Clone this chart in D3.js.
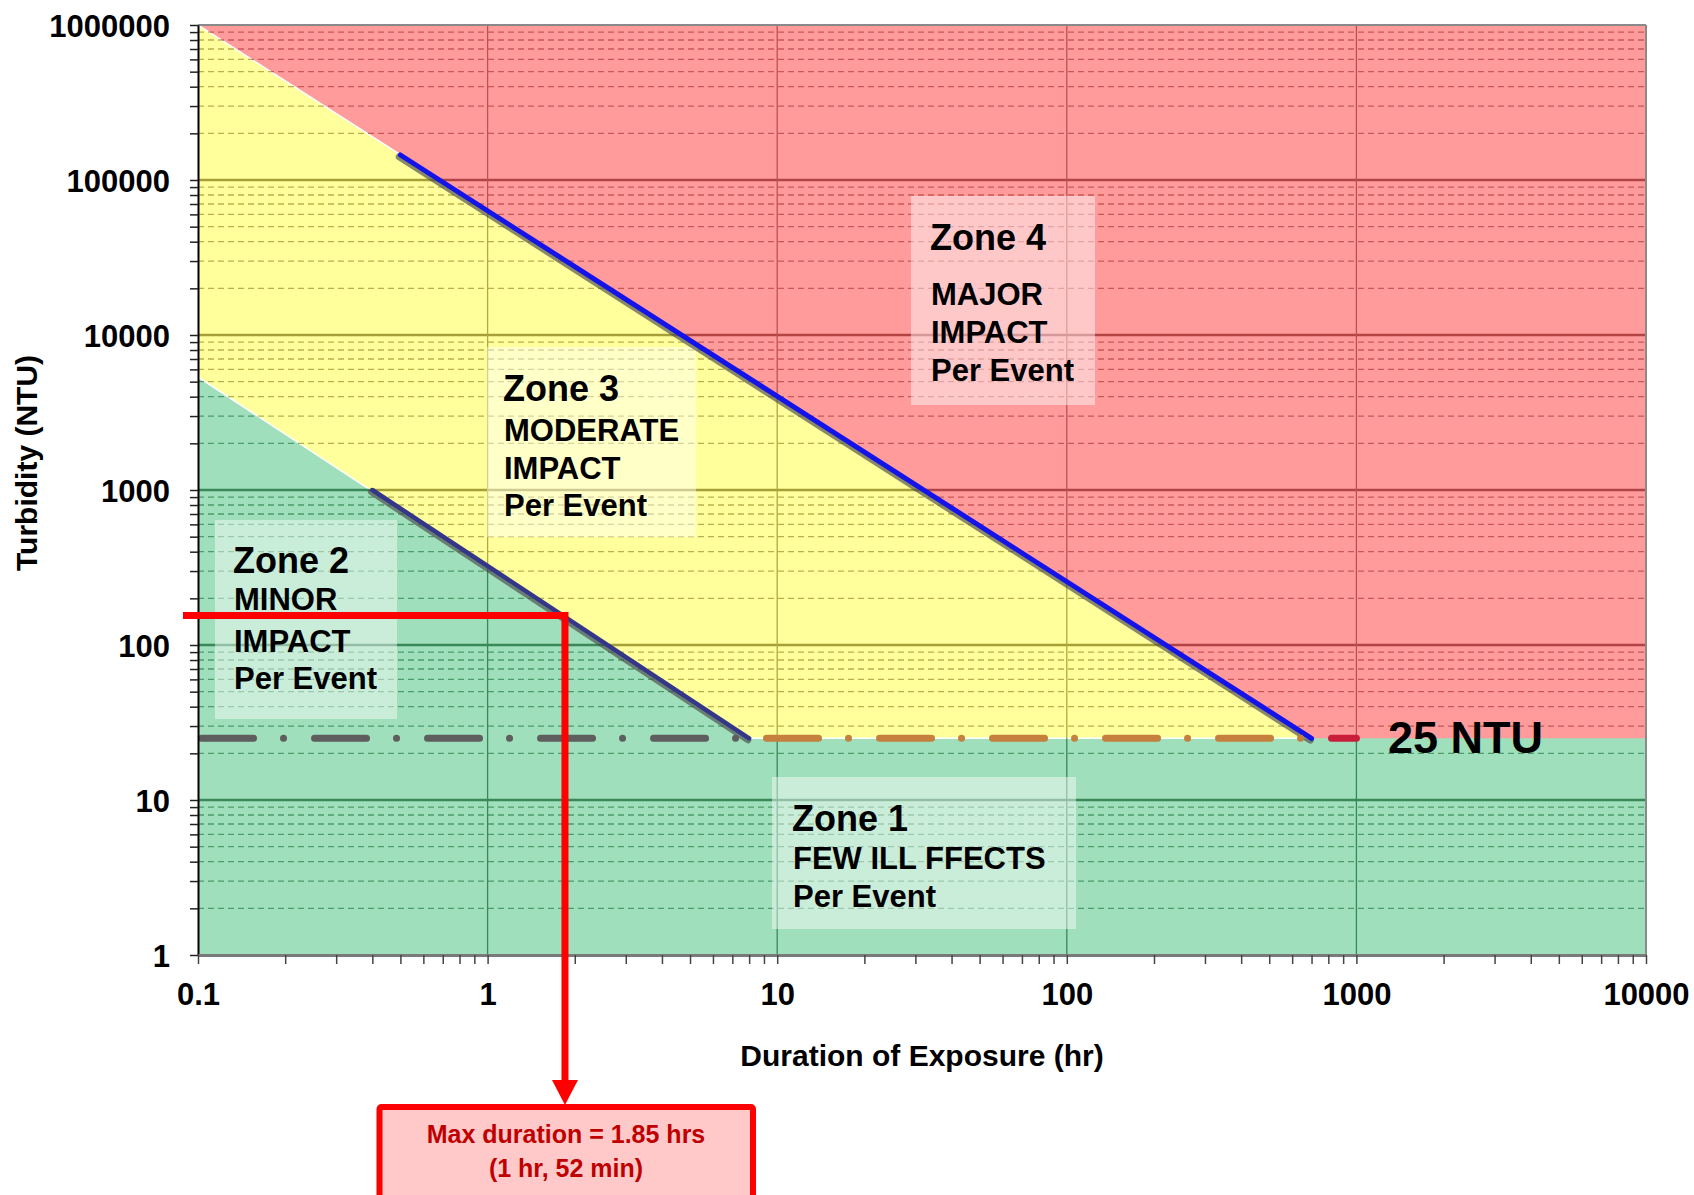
<!DOCTYPE html>
<html><head><meta charset="utf-8">
<script src="https://cdn.jsdelivr.net/npm/d3@7"></script>
<style>
html,body{margin:0;padding:0;background:#fff;}
svg{display:block;}
text{font-family:"Liberation Sans",Arial,sans-serif;font-weight:bold;}
</style></head>
<body>
<script>
// ---------------- data ----------------
const xTickValues = [0.1, 1, 10, 100, 1000, 10000];
const xTickLabels = ["0.1", "1", "10", "100", "1000", "10000"];
const yTickValues = [1, 10, 100, 1000, 10000, 100000, 1000000];
const yTickLabels = ["1", "10", "100", "1000", "10000", "100000", "1000000"];
const minorMultipliers = [2, 3, 4, 5, 6, 7, 8, 9];

// zone boundaries (duration hr, turbidity NTU)
const zone34Boundary = [[0.1, 1000000], [700, 25]];
const zone23Boundary = [[0.1, 5360], [8, 25]];
const zone34Line = [[0.5, 145000], [700, 25]];
const zone23Line = [[0.4, 1000], [8, 25]];
const thresholdNTU = 25;
const thresholdSegments = [[0.1, 8], [8, 700], [700, 1000]];
const thresholdColors = ["#5e5e5e", "#c4803c", "#c81e3c"];

const maxTurbidity = 155;
const maxDuration = 1.85;
const annotationLines = ["Max duration = 1.85 hrs", "(1 hr, 52 min)"];

const zoneTitles = ["Zone 1", "Zone 2", "Zone 3", "Zone 4"];
const zoneTexts = [["FEW ILL FFECTS", "Per Event"], ["MINOR", "IMPACT", "Per Event"],
                   ["MODERATE", "IMPACT", "Per Event"], ["MAJOR", "IMPACT", "Per Event"]];
const xTitle = "Duration of Exposure (hr)";
const yTitle = "Turbidity (NTU)";
const thresholdLabel = "25 NTU";

// ---------------- layout ----------------
const W = 1694, H = 1195;
const L = 198, R = 1646, T = 25, B = 955;
const X = d3.scaleLog().domain([xTickValues[0], xTickValues[xTickValues.length-1]]).range([L, R]);
const Y = d3.scaleLog().domain([yTickValues[0], yTickValues[yTickValues.length-1]]).range([B, T]);
const xMin = X.domain()[0], xMax = X.domain()[1], yMin = Y.domain()[0], yMax = Y.domain()[1];

const svg = d3.select("body").append("svg").attr("width", W).attr("height", H);
svg.append("rect").attr("width", W).attr("height", H).attr("fill", "#fff");
const defs = svg.append("defs");
const line = d3.line().x(d => X(d[0])).y(d => Y(d[1]));

const redPoly = [zone34Boundary[0], [xMax, yMax], [xMax, thresholdNTU], zone34Boundary[1]];
const yellowPoly = [zone34Boundary[0], zone34Boundary[1], zone23Boundary[1], zone23Boundary[0]];
const greenPoly = [zone23Boundary[0], zone23Boundary[1], [xMax, thresholdNTU], [xMax, yMin], [xMin, yMin]];

const zones = [
  {id: "g", poly: greenPoly, fill: "#9fdfbb", major: "#3a8858", minor: "#4e9c6c", vert: "#3a8858"},
  {id: "r", poly: redPoly, fill: "#ff9b9b", major: "#b24444", minor: "#c85858", vert: "#c05050"},
  {id: "y", poly: yellowPoly, fill: "#ffff9c", major: "#a69e36", minor: "#b8b050", vert: "#b0a840"}
];

// zone fills
svg.append("rect").attr("x", L).attr("y", T).attr("width", R - L).attr("height", B - T).attr("fill", zones[0].fill);
svg.append("path").attr("d", line(redPoly) + "Z").attr("fill", zones[1].fill);
svg.append("path").attr("d", line(yellowPoly) + "Z").attr("fill", zones[2].fill)
   .attr("stroke", "#fff").attr("stroke-width", 1.5);

// grid lines clipped per zone
const minorVals = [];
yTickValues.slice(0, -1).forEach(d => minorMultipliers.forEach(m => minorVals.push(d * m)));
zones.forEach(z => {
  defs.append("clipPath").attr("id", "clip-" + z.id).append("path").attr("d", line(z.poly) + "Z");
  const g = svg.append("g").attr("clip-path", "url(#clip-" + z.id + ")");
  g.selectAll(".mn").data(minorVals).enter().append("line")
    .attr("x1", L).attr("x2", R).attr("y1", d => Y(d)).attr("y2", d => Y(d))
    .attr("stroke", z.minor).attr("stroke-width", 1.3).attr("stroke-dasharray", "6,4");
  g.selectAll(".mj").data(yTickValues.slice(1, -1)).enter().append("line")
    .attr("x1", L).attr("x2", R).attr("y1", d => Y(d)).attr("y2", d => Y(d))
    .attr("stroke", z.major).attr("stroke-width", 2.5);
  g.selectAll(".vt").data(xTickValues.slice(1, -1)).enter().append("line")
    .attr("y1", T).attr("y2", B).attr("x1", d => X(d)).attr("x2", d => X(d))
    .attr("stroke", z.vert).attr("stroke-width", 1.3);
});

// zone label boxes
const boxes = [
  {x: 772, y: 777, w: 304, h: 152, tx: 792, ty: [831, 869, 907]},
  {x: 215, y: 520, w: 182, h: 199, tx: 233, ty: [573, 610, 652, 689]},
  {x: 487, y: 347, w: 209, h: 190, tx: 503, ty: [401, 441, 479, 516]},
  {x: 911, y: 196, w: 184, h: 209, tx: 930, ty: [250, 305, 343, 381]}
];
boxes.forEach(b => {
  svg.append("rect").attr("x", b.x).attr("y", b.y).attr("width", b.w).attr("height", b.h)
    .attr("fill", "#fff").attr("fill-opacity", 0.45);
});

// boundary lines
function drawBoundary(pts, color, w) {
  svg.append("path").attr("d", line(pts)).attr("fill", "none")
    .attr("stroke", "#4a4a4a").attr("stroke-opacity", 0.65).attr("stroke-width", w + 2)
    .attr("stroke-linecap", "round").attr("transform", "translate(-1.2,1.8)");
  svg.append("path").attr("d", line(pts)).attr("fill", "none")
    .attr("stroke", color).attr("stroke-width", w).attr("stroke-linecap", "round");
}
drawBoundary(zone23Line, "#34368a", 4.5);
drawBoundary(zone34Line, "#1414e8", 5);

// threshold dash-dot line, continuous pattern across coloured segments
const period = 113, dashStart = X(xMin) + 3.5;
thresholdSegments.forEach((s, i) => {
  const x0 = X(s[0]);
  svg.append("path").attr("d", line([[s[0], thresholdNTU], [s[1], thresholdNTU]]))
    .attr("fill", "none").attr("stroke", thresholdColors[i]).attr("stroke-width", 7)
    .attr("stroke-linecap", "round").attr("stroke-dasharray", "52 30 0.01 31")
    .attr("stroke-dashoffset", ((x0 - dashStart) % period + period) % period);
});

// borders
svg.append("line").attr("x1", L).attr("x2", R).attr("y1", T).attr("y2", T).attr("stroke", "#8a8a8a").attr("stroke-width", 2);
svg.append("line").attr("x1", R).attr("x2", R).attr("y1", T).attr("y2", B).attr("stroke", "#8a8a8a").attr("stroke-width", 2);

// axes
const allY = yTickValues.concat(minorVals).sort((a, b) => a - b);
const yAxis = d3.axisLeft(Y).tickValues(allY).tickSize(8).tickSizeOuter(0).tickPadding(20)
  .tickFormat(d => { const i = yTickValues.indexOf(d); return i >= 0 ? yTickLabels[i] : ""; });
const gy = svg.append("g").attr("transform", `translate(${L},0)`).call(yAxis);
gy.select(".domain").attr("stroke", "#000").attr("stroke-width", 2);
gy.selectAll(".tick line").attr("stroke", "#222").attr("stroke-width", 1.5);
gy.selectAll(".tick text").attr("font-size", 31).attr("fill", "#000")
  .attr("font-family", "'Liberation Sans', Arial, sans-serif").attr("font-weight", "bold").attr("dy", "0.36em");

const minorX = [];
xTickValues.slice(0, -1).forEach(d => minorMultipliers.forEach(m => minorX.push(d * m)));
const allX = xTickValues.concat(minorX).sort((a, b) => a - b);
const xAxis = d3.axisBottom(X).tickValues(allX).tickSize(9).tickSizeOuter(0).tickPadding(19)
  .tickFormat(d => { const i = xTickValues.indexOf(d); return i >= 0 ? xTickLabels[i] : ""; });
const gx = svg.append("g").attr("transform", `translate(0,${B})`).call(xAxis);
gx.select(".domain").attr("stroke", "#7a7a7a").attr("stroke-width", 3);
gx.selectAll(".tick line").attr("stroke", "#444").attr("stroke-width", 1.5);
gx.selectAll(".tick text").attr("font-size", 31).attr("fill", "#000")
  .attr("font-family", "'Liberation Sans', Arial, sans-serif").attr("font-weight", "bold");

// axis titles
svg.append("text").attr("x", (L + R) / 2).attr("y", 1066).attr("text-anchor", "middle")
  .attr("font-size", 30).text(xTitle);
svg.append("text").attr("transform", "translate(37,463) rotate(-90)").attr("text-anchor", "middle")
  .attr("font-size", 30).text(yTitle);

// zone texts
boxes.forEach((b, i) => {
  svg.append("text").attr("x", b.tx).attr("y", b.ty[0]).attr("font-size", 36).attr("fill", "#000").text(zoneTitles[i]);
  zoneTexts[i].forEach((t, j) => {
    svg.append("text").attr("x", b.tx + 1).attr("y", b.ty[j + 1]).attr("font-size", 31).attr("fill", "#000").text(t);
  });
});

// threshold label
svg.append("text").attr("x", 1388).attr("y", Y(thresholdNTU) + 15).attr("font-size", 45).attr("fill", "#000").text(thresholdLabel);

// max duration annotation
const px = X(maxDuration), py = Y(maxTurbidity);
const boxTop = 1107;
svg.append("path").attr("d", `M${L - 15},${py} L${px},${py} L${px},${boxTop - 24}`)
  .attr("fill", "none").attr("stroke", "#ff0000").attr("stroke-width", 7).attr("stroke-linejoin", "miter");
svg.append("path").attr("d", `M${px - 13},${boxTop - 27} L${px + 13},${boxTop - 27} L${px},${boxTop - 2} Z`).attr("fill", "#ff0000");
svg.append("rect").attr("x", 379.5).attr("y", boxTop).attr("width", 373.5).attr("height", 120).attr("rx", 2)
  .attr("fill", "#ffc9c9").attr("stroke", "#ff0000").attr("stroke-width", 6);
annotationLines.forEach((t, i) => {
  svg.append("text").attr("x", 566).attr("y", 1143 + i * 34).attr("text-anchor", "middle")
    .attr("font-family", "Lato, 'Open Sans', sans-serif").attr("font-weight", "bold")
    .attr("font-size", 25).attr("fill", "#c00000").text(t);
});
</script>
</body></html>
